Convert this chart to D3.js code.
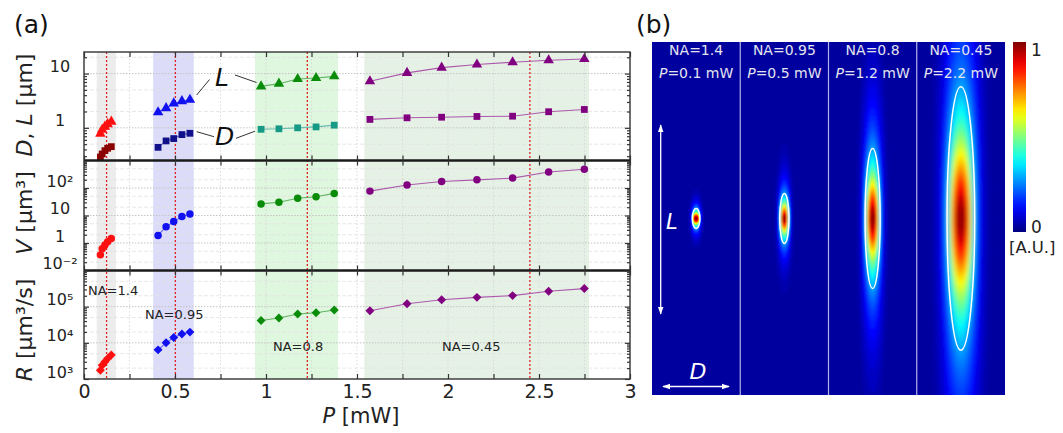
<!DOCTYPE html>
<html><head><meta charset="utf-8">
<script src="https://cdn.jsdelivr.net/npm/d3@7"></script>
<style>
body{margin:0;background:#fff;}
svg{display:block;font-family:"DejaVu Sans",Verdana,sans-serif;}
</style>
</head><body>
<svg id="c" width="1063" height="433"></svg>
<script>
// ---------------- DATA ----------------
const groupNames = ["NA=1.4","NA=0.95","NA=0.8","NA=0.45"];
const P14  = [0.090,0.100,0.115,0.130,0.150];
const P095 = [0.407,0.451,0.493,0.538,0.582];
const P08  = [0.973,1.071,1.174,1.275,1.375];
const P045 = [1.571,1.775,1.965,2.159,2.355,2.553,2.749];

const L14 = [0.78,0.92,1.05,1.17,1.30];
const D14 = [0.29,0.33,0.38,0.42,0.45];
const V14 = [0.37,0.62,0.85,1.10,1.45];
const R14 = [1750,2400,3000,3700,4600];

const L095 = [1.94,2.31,2.82,3.11,3.30];
const D095 = [0.437,0.574,0.634,0.751,0.794];
const V095 = [1.88,3.91,6.0,9.2,11.3];
const R095 = [6390,10000,14000,17500,19800];

const L08 = [5.82,6.52,7.94,8.3,8.9];
const D08 = [0.94,0.96,1.0,1.04,1.12];
const V08 = [26.4,30.3,42.6,48,63.6];
const R08 = [41600,48500,62700,68100,80900];

const L045 = [7.2,10.3,12.9,14.7,16.2,17.6,18.6];
const D045 = [1.43,1.53,1.57,1.62,1.64,1.98,2.18];
const V045 = [77,129,173,198,229,381,480];
const R045 = [77400,121000,156000,181000,202000,266000,316000];

const bandStart = [0.07,0.38,0.94,1.54];
const bandEnd   = [0.175,0.603,1.396,2.775];
const markerP   = [0.124,0.502,1.227,2.45];

const xTicks = [0,0.5,1,1.5,2,2.5,3];
const xTickLabels = ["0","0.5","1","1.5","2","2.5","3"];
const yTicksDL = [10,1];           const yLabelsDL = ["10","1"];
const yTicksV  = [100,10,1,0.1];   const yLabelsV  = ["10²","10","1","10⁻²"];
const yTicksR  = [1e5,1e4,1e3];    const yLabelsR  = ["10⁵","10⁴","10³"];

// panel (b)
const spotNA = ["NA=1.4","NA=0.95","NA=0.8","NA=0.45"];
const spotP  = ["0.1","0.5","1.2","2.2"];
const spotD  = [0.44,0.53,0.86,1.58];   // µm (contour width)
const spotL  = [1.14,2.86,8.0,15.05];   // µm (contour length)

// ---------------- STYLES ----------------
const mainCol = ["#ff1010","#1010f0","#0a8c0a","#800080"];
const dCol    = ["#8b0000","#10108a","#169a86","#800080"];
const bandCol = ["#ececec","#dcdcf8","#dff6df","#e6f1e6"];

const svg = d3.select("#c");
const defs = svg.append("defs");

// ---------------- PANEL (a) ----------------
const x = d3.scaleLinear().domain([0,3]).range([84,630]);
const panels = [
  {domain:[0.25,25], y0:52, y1:160.5, ticks:yTicksDL, labels:yLabelsDL},
  {domain:[0.1,1000], y0:160.5, y1:270.5, ticks:yTicksV, labels:yLabelsV},
  {domain:[1e3,1e6], y0:270.5, y1:379, ticks:yTicksR, labels:yLabelsR}
];
panels.forEach(p=>{ p.y = d3.scaleLog().domain(p.domain).range([p.y1,p.y0]); });
function minors(dom){
  const out=[]; const e0=Math.floor(Math.log10(dom[0])), e1=Math.ceil(Math.log10(dom[1]));
  for(let e=e0;e<=e1;e++) for(let m=2;m<=9;m++){const v=m*Math.pow(10,e); if(v>dom[0]&&v<dom[1]) out.push(v);}
  return out;
}
const yTop=52,yBot=379;

// bands
svg.append("g").selectAll("rect").data(bandStart).join("rect")
  .attr("x",(d)=>x(d)).attr("y",yTop)
  .attr("width",(d,i)=>x(bandEnd[i])-x(d)).attr("height",yBot-yTop)
  .attr("fill",(d,i)=>bandCol[i]);

// grid
const grid = svg.append("g");
d3.range(0.25,3,0.25).forEach(v=>{
  grid.append("line").attr("x1",x(v)).attr("x2",x(v)).attr("y1",yTop).attr("y2",yBot)
    .attr("stroke","#d4d4d4").attr("stroke-width",0.8).attr("stroke-dasharray","1.5,2");
});
panels.forEach(p=>{
  minors(p.domain).filter(v=>{const m=Math.round(v/Math.pow(10,Math.floor(Math.log10(v)+1e-9)));return m===2||m===5;})
   .forEach(v=>grid.append("line").attr("x1",84).attr("x2",630).attr("y1",p.y(v)).attr("y2",p.y(v))
     .attr("stroke","#e2e2e2").attr("stroke-width",0.8).attr("stroke-dasharray","4,2"));
  p.ticks.forEach(v=>{ if(p.y(v)>p.y0+1 && p.y(v)<p.y1-1)
    grid.append("line").attr("x1",84).attr("x2",630).attr("y1",p.y(v)).attr("y2",p.y(v))
     .attr("stroke","#c4c4c4").attr("stroke-width",1).attr("stroke-dasharray","1.5,1.5");});
});

// red dotted markers
svg.append("g").selectAll("line").data(markerP).join("line")
  .attr("x1",d=>x(d)).attr("x2",d=>x(d)).attr("y1",yTop).attr("y2",yBot)
  .attr("stroke","#e02020").attr("stroke-width",1.3).attr("stroke-dasharray","2,2");

// series
const Ps=[P14,P095,P08,P045], Ls=[L14,L095,L08,L045], Ds=[D14,D095,D08,D045],
      Vs=[V14,V095,V08,V045], Rs=[R14,R095,R08,R045];
const series=[];
for(let g=0;g<4;g++){
  series.push({pan:0, P:Ps[g], v:Ls[g], col:mainCol[g], shape:"tri"});
  series.push({pan:0, P:Ps[g], v:Ds[g], col:dCol[g], shape:"sq"});
  series.push({pan:1, P:Ps[g], v:Vs[g], col:mainCol[g], shape:"circ"});
  series.push({pan:2, P:Ps[g], v:Rs[g], col:mainCol[g], shape:"dia"});
}
const symPath = {
  tri: d3.symbol().type(d3.symbolTriangle).size(48)(),
  sq: d3.symbol().type(d3.symbolSquare).size(46)(),
  circ: d3.symbol().type(d3.symbolCircle).size(44)(),
  dia: d3.symbol().type(d3.symbolSquare).size(40)()
};
const sg = svg.append("g");
series.forEach(s=>{
  const y = panels[s.pan].y;
  const pts = s.P.map((p,i)=>[p,s.v[i]]);
  sg.append("path").datum(pts)
    .attr("d",d3.line().x(d=>x(d[0])).y(d=>y(d[1])))
    .attr("fill","none").attr("stroke",d3.interpolateRgb(s.col,"#fff")(0.35)).attr("stroke-width",1.1);
  sg.append("g").selectAll("path").data(pts).join("path")
    .attr("d",symPath[s.shape])
    .attr("transform",d=>`translate(${x(d[0])},${y(d[1])})`+(s.shape==="dia"?" rotate(45)":""))
    .attr("fill",s.col);
});

// frame and separators
svg.append("rect").attr("x",84).attr("y",yTop).attr("width",546).attr("height",yBot-yTop)
  .attr("fill","none").attr("stroke","#333").attr("stroke-width",1.4);
[160.5,270.5].forEach(yy=>svg.append("line").attr("x1",84).attr("x2",630).attr("y1",yy).attr("y2",yy)
  .attr("stroke","#1a1a1a").attr("stroke-width",2.6));

// axes
function styleAxis(g){ g.select(".domain").remove(); g.selectAll(".tick line").attr("stroke","#333").attr("stroke-width",1.2); }
const xAll = d3.range(0,3.01,0.25);
panels.forEach((p)=>{
  svg.append("g").attr("transform",`translate(0,${p.y0})`)
    .call(d3.axisBottom(x).tickValues(xAll).tickSize(5).tickFormat("")).call(styleAxis);
  svg.append("g").attr("transform",`translate(0,${p.y1})`)
    .call(d3.axisTop(x).tickValues(xAll).tickSize(5).tickFormat("")).call(styleAxis);
  const gl = svg.append("g").attr("transform","translate(84,0)")
    .call(d3.axisLeft(p.y).tickValues(p.ticks).tickSize(-5).tickFormat((d,i)=>p.labels[i])).call(styleAxis);
  gl.selectAll("text").attr("x",-24).attr("y",-7).attr("text-anchor","middle")
    .attr("font-size",16).attr("fill","#222").attr("font-family","DejaVu Sans, sans-serif");
  svg.append("g").attr("transform","translate(84,0)")
    .call(d3.axisLeft(p.y).tickValues(minors(p.domain)).tickSize(-3).tickFormat("")).call(styleAxis);
  svg.append("g").attr("transform","translate(630,0)")
    .call(d3.axisRight(p.y).tickValues(p.ticks).tickSize(-5).tickFormat("")).call(styleAxis);
  svg.append("g").attr("transform","translate(630,0)")
    .call(d3.axisRight(p.y).tickValues(minors(p.domain)).tickSize(-3).tickFormat("")).call(styleAxis);
});
// bottom labels
const gx = svg.append("g").attr("transform",`translate(0,${yBot})`)
  .call(d3.axisBottom(x).tickValues(xTicks).tickSize(0).tickFormat((d,i)=>xTickLabels[i]));
gx.select(".domain").remove();
gx.selectAll("text").attr("y",6).attr("font-size",19).attr("fill","#222").attr("font-family","DejaVu Sans, sans-serif");

// axis titles
const tf = svg.append("g").attr("font-size",22).attr("fill","#222");
let t = tf.append("text").attr("transform","translate(32,105) rotate(-90)").attr("text-anchor","middle");
t.append("tspan").attr("font-style","italic").text("D");
t.append("tspan").text(", ");
t.append("tspan").attr("font-style","italic").text("L");
t.append("tspan").text(" [µm]");
t = tf.append("text").attr("transform","translate(32,213) rotate(-90)").attr("text-anchor","middle");
t.append("tspan").attr("font-style","italic").text("V");
t.append("tspan").text(" [µm³]");
t = tf.append("text").attr("transform","translate(32,330) rotate(-90)").attr("text-anchor","middle");
t.append("tspan").attr("font-style","italic").text("R");
t.append("tspan").text(" [µm³/s]");
t = tf.append("text").attr("x",361).attr("y",423).attr("text-anchor","middle").attr("font-size",21);
t.append("tspan").attr("font-style","italic").text("P");
t.append("tspan").text(" [mW]");

// panel labels
svg.append("text").attr("x",14).attr("y",33).attr("font-size",25).attr("fill","#111").text("(a)");
svg.append("text").attr("x",636).attr("y",33).attr("font-size",25).attr("fill","#111").text("(b)");

// L / D annotations
const ann = svg.append("g");
ann.append("text").attr("x",215).attr("y",86).attr("font-size",25).attr("font-style","italic").attr("fill","#111").text("L");
ann.append("text").attr("x",215).attr("y",145).attr("font-size",25).attr("font-style","italic").attr("fill","#111").text("D");
[[196.7,95,209.5,79.5],[235,75,256.5,82.5],[196.7,131.7,214,136.7],[236,138.3,255,131.2]].forEach(l=>
  ann.append("line").attr("x1",l[0]).attr("y1",l[1]).attr("x2",l[2]).attr("y2",l[3]).attr("stroke","#333").attr("stroke-width",1));

// NA labels
const naPos = [[88,295],[145,319],[273,351],[442,351]];
svg.append("g").selectAll("text").data(groupNames).join("text")
  .attr("x",(d,i)=>naPos[i][0]).attr("y",(d,i)=>naPos[i][1])
  .attr("font-size",13).attr("fill","#222").text(d=>d);

// ---------------- PANEL (b) ----------------
function jet(v){const c=q=>Math.max(0,Math.min(1,q));
  return d3.rgb(255*c(1.5-Math.abs(4*v-3)),255*c(1.5-Math.abs(4*v-2)),255*c(1.5-Math.abs(4*v-1))).formatHex();}
const bgV = 0.03;
const bx = d3.scaleBand().domain(spotNA).range([652,1005]);
const um = d3.scaleLinear().domain([0,1]).range([0,17.5]);
const cy = 218.5, by0 = 42, by1 = 395;

svg.append("rect").attr("x",652).attr("y",by0).attr("width",353).attr("height",by1-by0).attr("fill",jet(bgV));

// iso-intensity levels (colour steps), contour drawn at level vc
const vc = 0.3;
const levels = d3.range(0.045,0.99,0.02);
const gSpots = svg.append("g");
spotNA.forEach((na,i)=>{
  const cid="clip"+i;
  defs.append("clipPath").attr("id",cid).append("rect")
    .attr("x",bx(na)).attr("y",by0).attr("width",bx.bandwidth()).attr("height",by1-by0);
  const cx = bx(na)+bx.bandwidth()/2;
  const rx = um(spotD[i])/2, ry = um(spotL[i])/2;
  const fid="blur"+i;
  defs.append("filter").attr("id",fid).attr("x","-50%").attr("y","-50%").attr("width","200%").attr("height","200%")
    .append("feGaussianBlur").attr("stdDeviation",Math.max(0.6,rx*0.18));
  const zc = Math.sqrt(1/vc-1), lc = Math.log(1/vc);
  const g = gSpots.append("g").attr("clip-path",`url(#${cid})`);
  const gi = g.append("g").attr("filter",`url(#${fid})`);
  gi.selectAll("ellipse").data(levels).join("ellipse")
    .attr("cx",cx).attr("cy",cy)
    .attr("rx",v=>rx*Math.pow(Math.log(1/v)/lc,0.36)*(1+0.25*Math.max(0,Math.sqrt(1/v-1)/zc-1)))
    .attr("ry",v=>ry*Math.sqrt(1/v-1)/zc)
    .attr("fill",v=>jet(Math.max(bgV,v)));
  g.append("ellipse").attr("cx",cx).attr("cy",cy).attr("rx",rx).attr("ry",ry)
    .attr("fill","none").attr("stroke","#fff").attr("stroke-width",1.5);
  svg.append("text").attr("x",cx).attr("y",55).attr("text-anchor","middle").attr("font-size",14).attr("fill","#e4e4ee").text(na);
  const tp = svg.append("text").attr("x",cx).attr("y",78).attr("text-anchor","middle").attr("font-size",14).attr("fill","#e4e4ee");
  tp.append("tspan").attr("font-style","italic").text("P");
  tp.append("tspan").text("="+spotP[i]+" mW");
});
// separators
bx.domain().slice(1).forEach(na=>svg.append("line").attr("x1",bx(na)).attr("x2",bx(na)).attr("y1",by0).attr("y2",by1)
  .attr("stroke","#b4b4e6").attr("stroke-width",1.2));

// arrows
const mk = defs.append("marker").attr("id","ah").attr("viewBox","0 0 10 10").attr("refX",9).attr("refY",5)
  .attr("markerWidth",8).attr("markerHeight",8).attr("orient","auto-start-reverse").attr("markerUnits","userSpaceOnUse");
mk.append("path").attr("d","M0,1.5 L10,5 L0,8.5 Z").attr("fill","#fff");
svg.append("line").attr("x1",660.7).attr("x2",660.7).attr("y1",125).attr("y2",314)
  .attr("stroke","#fff").attr("stroke-width",1.3).attr("marker-start","url(#ah)").attr("marker-end","url(#ah)");
svg.append("line").attr("x1",663).attr("x2",729).attr("y1",386.5).attr("y2",386.5)
  .attr("stroke","#fff").attr("stroke-width",1.3).attr("marker-start","url(#ah)").attr("marker-end","url(#ah)");
svg.append("text").attr("x",666).attr("y",229).attr("font-size",21).attr("font-style","italic").attr("fill","#fff").text("L");
svg.append("text").attr("x",698).attr("y",379).attr("text-anchor","middle").attr("font-size",22).attr("font-style","italic").attr("fill","#fff").text("D");

// colorbar
const cb = defs.append("linearGradient").attr("id","cbg").attr("x1",0).attr("y1",1).attr("x2",0).attr("y2",0);
d3.range(0,1.0001,0.05).forEach(tt=>cb.append("stop").attr("offset",tt).attr("stop-color",jet(tt)));
svg.append("rect").attr("x",1013).attr("y",42).attr("width",13).attr("height",190).attr("fill","url(#cbg)");
svg.append("text").attr("x",1031).attr("y",56).attr("font-size",17).attr("fill","#222").text("1");
svg.append("text").attr("x",1031).attr("y",233).attr("font-size",17).attr("fill","#222").text("0");
svg.append("text").attr("x",1009).attr("y",253).attr("font-size",16.5).attr("fill","#222").text("[A.U.]");
</script>
</body></html>
